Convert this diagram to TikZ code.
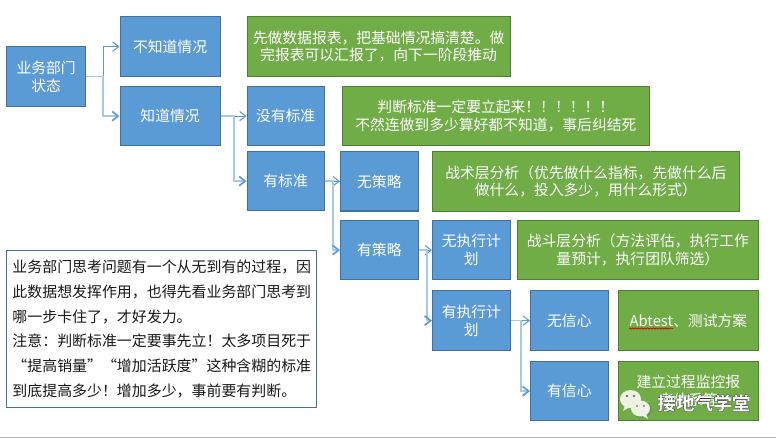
\documentclass[tikz,border=0pt]{standalone}
\usepackage{fontspec}
\setmainfont{Noto Sans CJK SC}
\usetikzlibrary{arrows.meta,decorations.pathmorphing}
\definecolor{bluefill}{HTML}{5B9BD5}
\definecolor{blueedge}{HTML}{41719C}
\definecolor{greenfill}{HTML}{70AD47}
\definecolor{greenedge}{HTML}{507E32}
\definecolor{lightline}{HTML}{A9C9E8}
\definecolor{bubble}{HTML}{EEF2E2}
\tikzset{
  boxbase/.style={anchor=north west,inner sep=0pt,line width=0.9pt,text=white,align=center,font=\fontsize{11.1}{13.2}\selectfont},
  bluebox/.style={boxbase,fill=bluefill,draw=blueedge},
  greenbox/.style={boxbase,fill=greenfill,draw=greenedge},
  wh/.style 2 args={minimum width=#1*0.75pt,minimum height=#2*0.75pt,text width=#1*0.75pt-4pt},
  conn/.style={draw=bluefill,line width=0.8pt,-{Straight Barb[length=4.5pt,width=7pt]}},
  connlow/.style={draw=lightline,line width=1.25pt,-{Straight Barb[length=4.5pt,width=7pt,color=bluefill]}}
}
\begin{document}
\begin{tikzpicture}[x=0.75pt,y=-0.75pt]
\useasboundingbox (0,0) rectangle (776,438);
\fill[white] (0,0) rectangle (776,438);
\draw[black!30,line width=0.8pt] (0,437.5) -- (776,437.5);
\node[bluebox,wh={79}{60}] (a) at (6,46) {业务部门\\状态};
\node[bluebox,wh={100}{60}] (b) at (119.5,16) {不知道情况};
\node[bluebox,wh={100}{59}] (c) at (119.5,86) {知道情况};
\node[greenbox,wh={263}{60}] (d) at (246.5,16) {先做数据报表，把基础情况搞清楚。做\\完报表可以汇报了，向下一阶段推动};
\node[bluebox,wh={77}{59}] (e) at (246.5,86) {没有标准};
\node[bluebox,wh={77}{59}] (f) at (246.5,151) {有标准};
\node[greenbox,wh={306.5}{59}] (g) at (342,86) {判断标准一定要立起来！！！！！！\\不然连做到多少算好都不知道，事后纠结死};
\node[bluebox,wh={77.5}{59.5}] (h) at (340,151) {无策略};
\node[bluebox,wh={77.5}{59}] (i) at (340,220) {有策略};
\node[greenbox,wh={306.5}{60}] (j) at (432,151) {战术层分析（优先做什么指标，先做什么后\\做什么，投入多少，用什么形式）};
\node[bluebox,wh={77.5}{59}] (k) at (432,220) {无执行计\\划};
\node[greenbox,wh={240.5}{59}] (l) at (517,220) {战斗层分析（方法评估，执行工作\\量预计，执行团队筛选）};
\node[bluebox,wh={77.5}{60}] (m) at (432,290) {有执行计\\划};
\node[bluebox,wh={77.5}{60}] (n) at (530,290) {无信心};
\node[greenbox,wh={139.5}{60}] (o) at (618,290) {Abtest、测试方案};
\node[bluebox,wh={77.5}{59}] (p) at (530,361) {有信心};
\node[greenbox,wh={139.5}{59}] (q) at (618,361) {建立过程监控报\\表体系等};
\node[anchor=north west,inner sep=0pt,draw=blueedge,line width=0.7pt,minimum width=310*0.75pt,minimum height=157*0.75pt,text width=298*0.75pt,align=left,font=\fontsize{11.2}{18.5}\selectfont,text=black!90] (t) at (6,250) {业务部门思考问题有一个从无到有的过程，因\\此数据想发挥作用，也得先看业务部门思考到\\哪一步卡住了，才好发力。\\注意：判断标准一定要事先立！太多项目死于\\“提高销量”“增加活跃度”这种含糊的标准\\到底提高多少！增加多少，事前要有判断。};
\draw[conn] (a.east) -- ++(17,0) |- (b.west);
\draw[connlow] (a.east) -- ++(17,0) |- (c.west);
\draw[conn] (c.east) -- (e.west);
\draw[connlow] (c.east) -- ++(13,0) |- (f.west);
\draw[conn] (f.east) -- (h.west);
\draw[connlow] (f.east) -- ++(8,0) |- (i.west);
\draw[conn] (i.east) -- (k.west);
\draw[connlow] (i.east) -- ++(8,0) |- (m.west);
\draw[conn] (m.east) -- (n.west);
\draw[connlow] (m.east) -- ++(10.5,0) |- (p.west);
% spell-check squiggle under Abtest
\draw[red!80!black,line width=0.5pt,decorate,decoration={snake,amplitude=0.5pt,segment length=2.2pt}] (629,328.5) -- (673,328.5);
% watermark
\fill[bubble] (630.5,399) ellipse (10.5 and 9);
\fill[bubble] (625,405) -- (623,411) -- (630,407) -- cycle;
\fill[black!55,opacity=.5] (642,409.5) ellipse (10 and 8.5);
\fill[bubble] (640.5,408.5) ellipse (9.5 and 8);
\fill[bubble] (646,414) -- (648,419) -- (641,415) -- cycle;
\fill[black!70] (627,396) circle (1.1) (634,396) circle (1.1) (637,406) circle (0.9) (644,406) circle (0.9);
\node[text=white,font=\bfseries\fontsize{14}{14}\selectfont,anchor=west,inner sep=0pt] (w) at (657,403) {\special{pdf:code 0.2 0.2 0.2 RG 0.2 w 2 Tr}接地气学堂\special{pdf:code 0 Tr}};
\end{tikzpicture}
\end{document}
